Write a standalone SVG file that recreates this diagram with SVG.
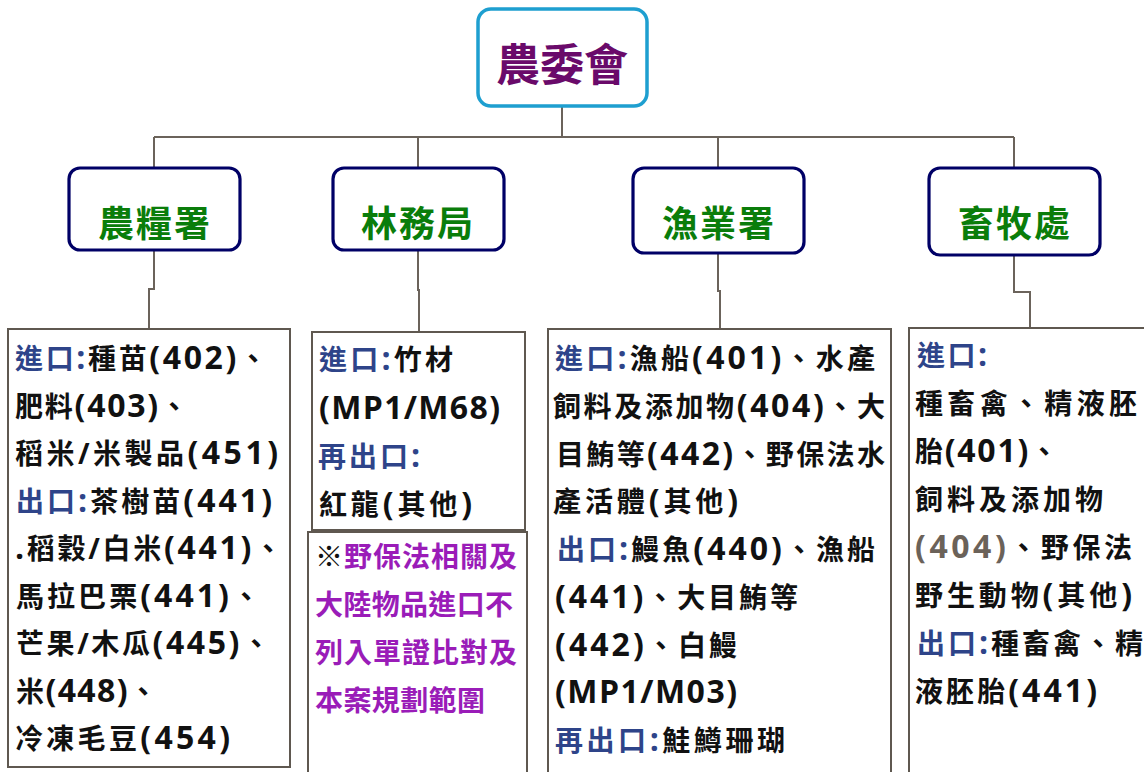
<svg xmlns="http://www.w3.org/2000/svg" width="1144" height="772" viewBox="0 0 1144 772">
<style>
.conn{fill:none;stroke:#6b635b;stroke-width:2}
.top{fill:#fff;stroke:#1e9fd0;stroke-width:3.5}
.dept{fill:#fff;stroke:#000066;stroke-width:3.2}
.list{fill:#fff;stroke:#5f5850;stroke-width:2}
.ttl{font-family:"Noto Sans CJK TC","Noto Sans CJK SC",sans-serif;font-weight:700;text-anchor:middle}
.t{font-family:"Open Sans","Noto Sans CJK TC",sans-serif;font-weight:700;font-size:28px;fill:#111}
.n{font-size:32px}
.lb{fill:#2e4489}
.pu{fill:#9a1cb8}
.gy{fill:#6b6259}
</style>
<rect width="1144" height="772" fill="#fff"/>
<g id="connectors">
<path class="conn" d="M562,107V137M154,137H1014M154,137V168M418,137V168M718,137V168M1014,137V168"/>
<path class="conn" d="M154,250V289H149V329"/>
<path class="conn" d="M418,250V290H419V332"/>
<path class="conn" d="M718,254V291H720V329"/>
<path class="conn" d="M1014,256V292H1030V328"/>
</g>
<g id="coa">
<rect class="top" x="478" y="9" width="169" height="97" rx="13"/>
<text class="ttl" x="562" y="81" font-size="44" fill="#6a0a6a">農委會</text>
</g>
<g id="afa">
<rect class="dept" x="69" y="168" width="171" height="82" rx="11"/>
<text class="ttl" x="155" y="237" font-size="36" fill="#0a7d0a" letter-spacing="2">農糧署</text>
</g>
<g id="forestry">
<rect class="dept" x="333" y="168" width="171" height="82" rx="11"/>
<text class="ttl" x="418" y="237" font-size="36" fill="#0a7d0a" letter-spacing="2">林務局</text>
</g>
<g id="fisheries">
<rect class="dept" x="633" y="168" width="171" height="85" rx="11"/>
<text class="ttl" x="719" y="237" font-size="36" fill="#0a7d0a" letter-spacing="2">漁業署</text>
</g>
<g id="livestock">
<rect class="dept" x="929" y="168" width="171" height="87" rx="11"/>
<text class="ttl" x="1015" y="237" font-size="36" fill="#0a7d0a" letter-spacing="2">畜牧處</text>
</g>
<g id="afa-list">
<rect class="list" x="8" y="329" width="282" height="438"/>
<text class="t" x="15" y="369" textLength="252" lengthAdjust="spacing"><tspan class="lb">進口<tspan class="n">:</tspan></tspan>種苗<tspan class="n">(402)</tspan>、</text>
<text class="t" x="15" y="416.5" textLength="173" lengthAdjust="spacing">肥料<tspan class="n">(403)</tspan>、</text>
<text class="t" x="15" y="464" textLength="263" lengthAdjust="spacing">稻米/米製品<tspan class="n">(451)</tspan></text>
<text class="t" x="16" y="511.5" textLength="256" lengthAdjust="spacing"><tspan class="lb">出口<tspan class="n">:</tspan></tspan>茶樹苗<tspan class="n">(441)</tspan></text>
<text class="t" x="15" y="559" textLength="267" lengthAdjust="spacing"><tspan class="n">.</tspan>稻穀/白米<tspan class="n">(441)</tspan>、</text>
<text class="t" x="16" y="606.5" textLength="244" lengthAdjust="spacing">馬拉巴栗<tspan class="n">(441)</tspan>、</text>
<text class="t" x="16" y="654" textLength="254" lengthAdjust="spacing">芒果/木瓜<tspan class="n">(445)</tspan>、</text>
<text class="t" x="16" y="701.5" textLength="141" lengthAdjust="spacing">米<tspan class="n">(448)</tspan>、</text>
<text class="t" x="15" y="749" textLength="215" lengthAdjust="spacing">冷凍毛豆<tspan class="n">(454)</tspan></text>
</g>
<g id="forestry-list">
<rect class="list" x="312" y="332" width="213" height="198"/>
<text class="t" x="319" y="370" textLength="134" lengthAdjust="spacing"><tspan class="lb">進口<tspan class="n">:</tspan></tspan>竹材</text>
<text class="t n" x="319" y="419" textLength="181" lengthAdjust="spacing">(MP1/M68)</text>
<text class="t" x="318" y="467" textLength="102" lengthAdjust="spacing"><tspan class="lb">再出口<tspan class="n">:</tspan></tspan></text>
<text class="t" x="319" y="515" textLength="153" lengthAdjust="spacing">紅龍<tspan class="n">(</tspan>其他<tspan class="n">)</tspan></text>
</g>
<g id="note">
<rect class="list" x="308" y="532" width="219" height="250"/>
<text class="t" x="315" y="567" textLength="202" lengthAdjust="spacing">※<tspan class="pu">野保法相關及</tspan></text>
<text class="t pu" x="315" y="615" textLength="198" lengthAdjust="spacing">大陸物品進口不</text>
<text class="t pu" x="315" y="663" textLength="202" lengthAdjust="spacing">列入單證比對及</text>
<text class="t pu" x="315" y="711" textLength="170" lengthAdjust="spacing">本案規劃範圍</text>
</g>
<g id="fisheries-list">
<rect class="list" x="548" y="329" width="343" height="455"/>
<text class="t" x="555" y="369" textLength="320" lengthAdjust="spacing"><tspan class="lb">進口<tspan class="n">:</tspan></tspan>漁船<tspan class="n">(401)</tspan>、水產</text>
<text class="t" x="553" y="417" textLength="332" lengthAdjust="spacing">飼料及添加物<tspan class="n">(404)</tspan>、大</text>
<text class="t" x="556" y="465" textLength="329" lengthAdjust="spacing">目鮪等<tspan class="n">(442)</tspan>、野保法水</text>
<text class="t" x="553" y="512" textLength="185" lengthAdjust="spacing">產活體<tspan class="n">(</tspan>其他<tspan class="n">)</tspan></text>
<text class="t" x="557" y="560" textLength="318" lengthAdjust="spacing"><tspan class="lb">出口<tspan class="n">:</tspan></tspan>鰻魚<tspan class="n">(440)</tspan>、漁船</text>
<text class="t" x="555" y="608" textLength="243" lengthAdjust="spacing"><tspan class="n">(441)</tspan>、大目鮪等</text>
<text class="t" x="555" y="656" textLength="182" lengthAdjust="spacing"><tspan class="n">(442)</tspan>、白鰻</text>
<text class="t n" x="555" y="703" textLength="182" lengthAdjust="spacing">(MP1/M03)</text>
<text class="t" x="555" y="751" textLength="230" lengthAdjust="spacing"><tspan class="lb">再出口<tspan class="n">:</tspan></tspan>鮭鱒珊瑚</text>
</g>
<g id="livestock-list">
<rect class="list" x="909" y="328" width="245" height="456"/>
<text class="t lb" x="917" y="366" textLength="70" lengthAdjust="spacing">進口<tspan class="n">:</tspan></text>
<text class="t" x="915" y="414" textLength="222" lengthAdjust="spacing">種畜禽、精液胚</text>
<text class="t" x="915" y="462" textLength="143" lengthAdjust="spacing">胎<tspan class="n">(401)</tspan>、</text>
<text class="t" x="915" y="510" textLength="188" lengthAdjust="spacing">飼料及添加物</text>
<text class="t" x="915" y="558" textLength="217" lengthAdjust="spacing"><tspan class="gy n">(404)</tspan>、野保法</text>
<text class="t" x="915" y="606" textLength="217" lengthAdjust="spacing">野生動物<tspan class="n">(</tspan>其他<tspan class="n">)</tspan></text>
<text class="t" x="917" y="654" textLength="226" lengthAdjust="spacing"><tspan class="lb">出口<tspan class="n">:</tspan></tspan>種畜禽、精</text>
<text class="t" x="915" y="702" textLength="182" lengthAdjust="spacing">液胚胎<tspan class="n">(441)</tspan></text>
</g>
</svg>
